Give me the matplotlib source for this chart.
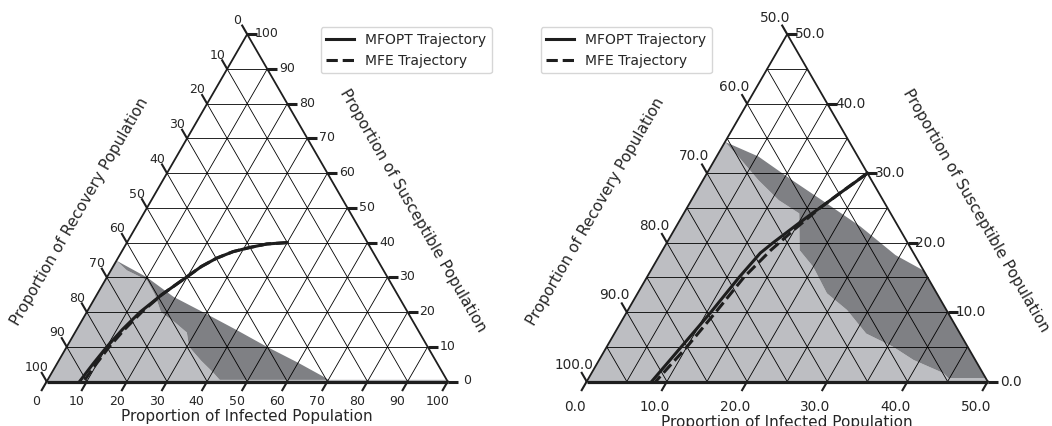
import numpy as np
import matplotlib.pyplot as plt
from matplotlib.patches import Polygon

# -----------------------------
# Data (percent of population: infected, susceptible; recovery = 100 - both)
# -----------------------------
ticks_full = [0, 10, 20, 30, 40, 50, 60, 70, 80, 90, 100]
ticks_zoom = [0.0, 10.0, 20.0, 30.0, 40.0, 50.0]

# left panel: border light/dark region and upper border of the dark region
full_light_i = [0.0, 4.0, 10.4, 14.5, 18.5, 23.5, 27.9, 30.5, 35.5, 40.2, 43.5]
full_light_s = [34.8, 32.0, 29.2, 25.0, 20.0, 17.0, 14.1, 10.0, 6.0, 2.6, 0.0]
full_dark_i = [0.0, 10.0, 19.4, 30.0, 40.0, 49.9, 60.0, 68.3, 71.0]
full_dark_s = [34.8, 30.0, 24.4, 19.5, 14.8, 10.0, 5.4, 1.4, 0.0]

# right panel: same borders, read from the zoomed view
zoom_light_i = [0.0, 2.7, 6.9, 10.9, 14.4, 17.1, 20.0, 23.6, 27.3, 31.4, 35.7, 39.2, 43.9, 45.5]
zoom_light_s = [34.5, 32.4, 29.0, 26.1, 24.2, 18.9, 16.5, 12.7, 10.3, 6.9, 5.0, 3.1, 1.2, 0.0]
zoom_dark_i = [0.0, 5.2, 11.1, 17.0, 23.0, 29.4, 35.0, 42.0, 50.0, 60.0, 70.0]
zoom_dark_s = [34.5, 32.4, 29.0, 25.7, 22.3, 18.2, 15.5, 12.0, 8.0, 4.0, 0.0]

base_strip = 0.5

# left panel trajectories
mfopt_full_i = [40.0, 35.1, 31.4, 27.8, 24.6, 22.0, 19.8, 16.2, 13.3, 11.4, 10.0, 9.0, 8.2]
mfopt_full_s = [40.0, 39.6, 38.6, 37.4, 35.5, 33.1, 30.0, 25.0, 20.0, 15.0, 10.0, 5.0, 0.0]
mfe_full_i = [40.0, 35.1, 31.4, 27.8, 24.6, 22.0, 19.8, 16.2, 13.7, 11.9, 10.6, 9.8, 9.2]
mfe_full_s = [40.0, 39.6, 38.6, 37.4, 35.5, 33.1, 30.0, 25.0, 20.0, 15.0, 10.0, 5.0, 0.0]

# right panel trajectories
mfopt_zoom_i = [20.0, 19.0, 18.0, 17.0, 16.0, 15.0, 14.1, 13.2, 12.4, 11.5, 11.0, 10.5, 9.9, 9.3, 8.7, 8.1]
mfopt_zoom_s = [30.0, 28.5, 27.1, 25.6, 24.2, 22.7, 21.3, 19.9, 18.5, 15.0, 12.5, 10.0, 7.5, 5.0, 2.5, 0.0]
mfe_zoom_i = [20.0, 18.0, 16.6, 15.0, 13.5, 12.1, 11.1, 10.0, 9.3, 8.6]
mfe_zoom_s = [30.0, 27.1, 25.0, 22.0, 18.9, 15.0, 10.0, 5.0, 2.5, 0.0]

# -----------------------------
# Style / layout
# -----------------------------
W, H = 1052, 426
OY = 381.5
H3 = np.sqrt(3) / 2
TXT = '#262626'
LIGHT = '#bdbec2'
DARK = '#7f8084'
LINE = '#1e1e1e'


def proj(i, s):
    i = np.asarray(i, dtype=float)
    s = np.asarray(s, dtype=float)
    return i + s / 2, s * H3


def panel(fig, left_px, ox, k, scale, grid_step, ticks, fmt, tick_fs,
          off_r, off_l, off_b, xlab_top, llab, rlab, shade, traj, leg_px, lab_fs=11):
    ax = fig.add_axes([left_px / W, 0, 526 / W, 1])
    ax.set_xlim((left_px - ox) / k, (left_px + 526 - ox) / k)
    ax.set_ylim((OY - H) / k, OY / k)
    ax.axis('off')

    def shift(x, y, d):
        return x + d[0] / k, y - d[1] / k

    def at(p):
        return (p[0] - ox) / k, (OY - p[1]) / k

    tx, ty = proj([0, scale, 0], [0, 0, scale])
    tri = Polygon(np.column_stack([tx, ty]), closed=True, transform=ax.transData)

    # shaded regions
    (li, ls), (di, ds) = shade
    regions = [
        ([0.0] + li, [0.0] + ls, LIGHT),
        (di + li[::-1], ds + ls[::-1], DARK),
        ([0, 100, 100 - base_strip, 0], [0, 0, base_strip, base_strip], LIGHT),
    ]
    for ri, rs, c in regions:
        x, y = proj(ri, rs)
        for p in ax.fill(x, y, color=c, lw=0, zorder=1):
            p.set_clip_path(tri)

    # grid
    for c in np.arange(grid_step, scale, grid_step):
        for a, b in (((0, c), (scale - c, c)), ((c, 0), (c, scale - c)), ((c, 0), (0, c))):
            x, y = proj([a[0], b[0]], [a[1], b[1]])
            ax.plot(x, y, color='k', lw=0.6, zorder=2)

    # boundary
    x, y = proj([0, scale], [0, 0])
    ax.plot(x, y, color=LINE, lw=2.3, solid_capstyle='butt', zorder=3)
    x, y = proj([scale, 0, 0], [0, scale, 0])
    ax.plot(x, y, color=LINE, lw=1.3, zorder=3)

    # ticks
    off = 10 / k
    for t in ticks:
        x, y = proj(scale - t, t)
        ax.plot([x, x + off], [y, y], color=LINE, lw=2.2, solid_capstyle='butt', zorder=3)
        ax.text(*shift(x, y, off_r), fmt(t), ha='center', va='center', fontsize=tick_fs, color=TXT)

        x, y = proj(0, t)
        ax.plot([x, x - off / 2], [y, y + off * H3], color=LINE, lw=1.5, zorder=3)
        ax.text(*shift(x, y, off_l), fmt(100 - t), ha='center', va='center', fontsize=tick_fs, color=TXT)

        x, y = proj(t, 0)
        ax.plot([x, x - off / 2], [y, y - off * H3], color=LINE, lw=1.5, zorder=3)
        ax.text(*shift(x, y, off_b), fmt(t), ha='center', va='center', fontsize=tick_fs, color=TXT)

    # axis titles
    ax.text(*at(xlab_top), 'Proportion of Infected Population', ha='center', va='top',
            fontsize=lab_fs, color=TXT)
    ax.text(*at(llab), 'Proportion of Recovery Population', ha='center', va='center',
            rotation=60, rotation_mode='anchor', fontsize=lab_fs, color=TXT)
    ax.text(*at(rlab), 'Proportion of Susceptible Population', ha='center', va='center',
            rotation=-60, rotation_mode='anchor', fontsize=lab_fs, color=TXT)

    # trajectories
    (oi, os_), (ei, es) = traj
    x, y = proj(oi, os_)
    ax.plot(x, y, color=LINE, lw=2.2, label='MFOPT Trajectory', zorder=4)
    x, y = proj(ei, es)
    ax.plot(x, y, color=LINE, lw=2.2, ls='--', label='MFE Trajectory', zorder=4)

    ax.legend(loc='upper left', bbox_to_anchor=(leg_px[0] / W, 1 - leg_px[1] / H),
              bbox_transform=fig.transFigure, borderaxespad=0, fontsize=10, labelcolor=TXT)
    return ax


fig = plt.figure(figsize=(W / 100, H / 100), dpi=100)

panel(fig, 0, 46.7, 4.01, 100, 10, ticks_full, lambda v: f'{v:d}', 9,
      (19.8, -0.5), (-9.8, -13.8), (-10.3, 20.2),
      (247, 408.5), (80, 211.7), (412.5, 210.8),
      ((full_light_i, full_light_s), (full_dark_i, full_dark_s)),
      ((mfopt_full_i, mfopt_full_s), (mfe_full_i, mfe_full_s)), (320.7, 27.3))

panel(fig, 526, 586.7, 8.02, 50, 5, ticks_zoom, lambda v: f'{v:.1f}', 9.8,
      (22.8, 0), (-12.5, -16.7), (-12, 25.2),
      (787, 414.5), (595.7, 211.7), (975.5, 210.8),
      ((zoom_light_i, zoom_light_s), (zoom_dark_i, zoom_dark_s)),
      ((mfopt_zoom_i, mfopt_zoom_s), (mfe_zoom_i, mfe_zoom_s)), (540.7, 27.3))

fig.savefig('out.png', dpi=100)
